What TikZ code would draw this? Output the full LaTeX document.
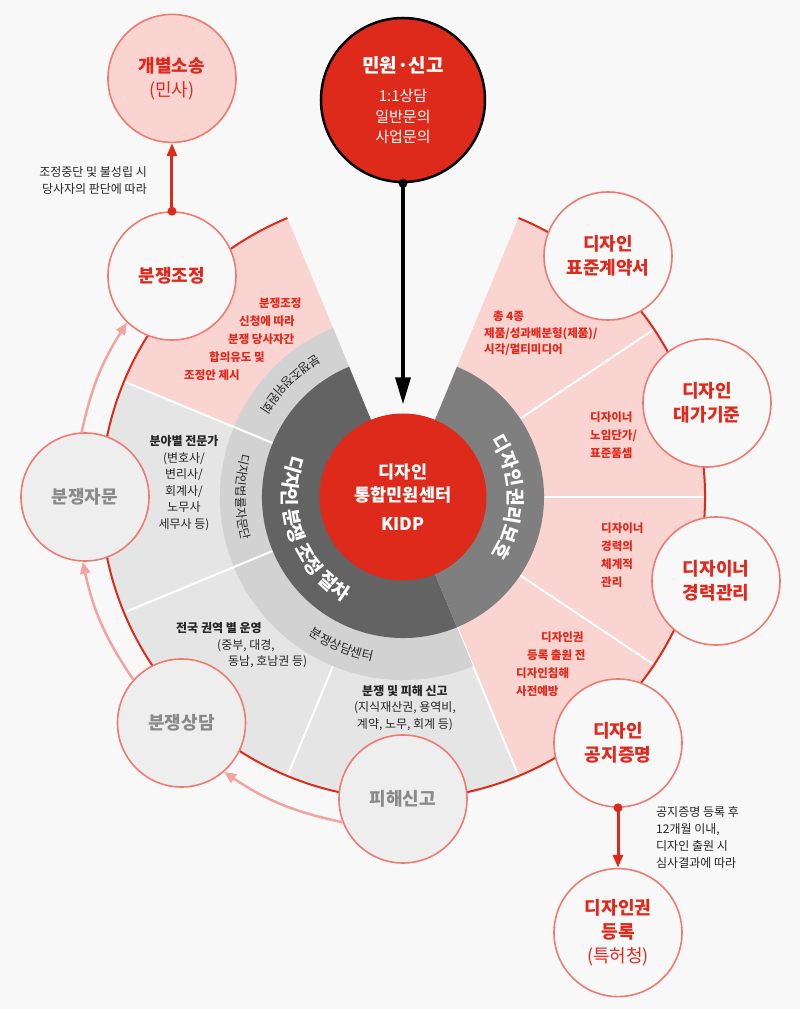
\documentclass[tikz,border=0pt]{standalone}
\usepackage{fontspec}
\setmainfont{Noto Sans CJK KR}
\usetikzlibrary{arrows.meta,positioning,decorations.text}

\newcommand{\kfs}[2]{\fontsize{#1}{#2}\selectfont}

\definecolor{kred}{HTML}{DD2A1A}
\definecolor{ktext}{HTML}{E0291C}
\definecolor{salmon}{HTML}{EE7A70}
\definecolor{blush}{HTML}{F9D4D0}
\definecolor{rose}{HTML}{F3A4A0}
\definecolor{bg}{HTML}{F8F8F8}
\definecolor{sector}{HTML}{E5E5E5}
\definecolor{band}{HTML}{D2D2D2}
\definecolor{darkring}{HTML}{636363}
\definecolor{midring}{HTML}{7F7F7F}
\definecolor{fog}{HTML}{EEEEEE}
\definecolor{ash}{HTML}{8A8A8A}

\tikzset{
    sat/.style = {
        circle,
        draw = salmon,
        line width = 1.6pt,
        minimum size = 128pt,
        inner sep = 0pt,
        align = center,
        font = \kfs{18}{24}\bfseries,
        },
    red sat/.style = {
        sat,
        fill = bg,
        text = ktext,
        },
    gray sat/.style = {
        sat,
        fill = fog,
        text = ash,
        },
    pink sat/.style = {
        sat,
        fill = blush,
        text = ktext,
        },
    red note/.style = {
        text = ktext,
        font = \kfs{11.5}{18}\bfseries,
        inner sep = 0pt,
        },
    note/.style = {
        text = black!85,
        font = \kfs{12}{16.5},
        inner sep = 0pt,
        },
    divider/.style = {
        draw = white,
        line width = 2pt,
        },
    flow/.style = {
        draw = rose,
        line width = 2.5pt,
        -{Triangle[length=12pt,width=10pt]},
        },
    push/.style = {
        draw = kred,
        line width = 3pt,
        -{Triangle[length=13pt,width=10pt]},
        },
    knob/.style = {
        circle,
        fill = kred,
        minimum size = 9pt,
        inner sep = 0pt,
        },
}

\begin{document}
\begin{tikzpicture}[x=1pt, y=1pt]
    \path[use as bounding box, fill=bg] (-403,-512) rectangle (397,497);

    % sectors of the wheel
    \fill[blush] (0,0) -- (112.5:302) arc[start angle=112.5, end angle=157.5, radius=302] -- cycle;
    \fill[sector] (0,0) -- (157.5:302) arc[start angle=157.5, end angle=292.5, radius=302] -- cycle;
    \fill[blush] (0,0) -- (-67.5:302) arc[start angle=-67.5, end angle=67.5, radius=302] -- cycle;
    \draw[divider] (0,0) -- (157.5:302);
    \draw[divider] (0,0) -- (202.5:302);
    \draw[divider] (0,0) -- (247.5:302);
    \draw[divider] (0,0) -- (292.5:302);
    \draw[divider] (0,0) -- (33.75:302);
    \draw[divider] (0,0) -- (0:302);
    \draw[divider] (0,0) -- (-33.75:302);

    % rings
    \fill[band] (0,0) -- (112.5:183) arc[start angle=112.5, end angle=292.5, radius=183] -- cycle;
    \draw[divider] (0,0) -- (157.5:183);
    \draw[divider] (0,0) -- (202.5:183);
    \fill[darkring] (0,0) -- (112.5:141) arc[start angle=112.5, end angle=292.5, radius=141] -- cycle;
    \fill[midring] (0,0) -- (-67.5:141) arc[start angle=-67.5, end angle=67.5, radius=141] -- cycle;
    \draw[kred, line width=2pt] (112.5:302) arc[start angle=112.5, end angle=427.5, radius=302];

    \path[decorate, decoration={text along path, text align=center, text color=white,
        text={|\kfs{19}{19}\bfseries|디자인 분쟁 조정 절차}}]
        (150:120) arc[start angle=150, end angle=250, radius=120];
    \path[decorate, decoration={text along path, text align=center, text color=white,
        text={|\kfs{19}{19}\bfseries|디자인권리보호}}]
        (48:105) arc[start angle=48, end angle=-48, radius=105];
    \path[decorate, decoration={text along path, text align=center, text color=black!85,
        text={|\kfs{12.5}{12.5}|분쟁조정위원회}}]
        (112.5:167) arc[start angle=112.5, end angle=157.5, radius=167];
    \path[decorate, decoration={text along path, text align=center, text color=black!85,
        text={|\kfs{12}{12}|디자인법률자문단}}]
        (157.5:167) arc[start angle=157.5, end angle=202.5, radius=167];
    \path[decorate, decoration={text along path, text align=center, text color=black!85,
        text={|\kfs{12.5}{12.5}|분쟁상담센터}}]
        (202.5:167) arc[start angle=202.5, end angle=292.5, radius=167];

    \node[circle, fill=kred, minimum size=167pt, inner sep=0pt, text=white, align=center,
        font=\kfs{17.5}{23}\bfseries] (kidp) at (0,0) {디자인\\통합민원센터\\[6pt]KIDP};

    % sector notes
    \node[red note, align=left, anchor=west] (jnote) at (-219,157.5)
        {\hspace*{75pt}분쟁조정\\\hspace*{55pt}신청에 따라\\\hspace*{44pt}분쟁 당사자간\\\hspace*{25pt}합의유도 및\\조정안 제시};
    \node[note, align=center] (mnote) at (-219,14)
        {\textbf{분야별 전문가}\\(변호사/\\변리사/\\회계사/\\노무사\\세무사 등)};
    \node[note, align=left, anchor=west] (snote) at (-227,-148.5)
        {\textbf{전국 권역 별 운영}\\\hspace*{41pt}(중부, 대경,\\\hspace*{52pt}동남, 호남권 등)};
    \node[note, align=center] (pnote) at (2,-211)
        {\textbf{분쟁 및 피해 신고}\\(지식재산권, 용역비,\\계약, 노무, 회계 등)};
    \node[red note, align=left, anchor=west, font=\kfs{11.5}{16.5}\bfseries] (gnote) at (81,163.5)
        {\hspace*{9pt}총 4종\\제품/성과배분형(제품)/\\시각/멀티미디어};
    \node[red note, align=left, anchor=west] (dnote) at (187,62) {디자이너\\노임단가/\\표준품셈};
    \node[red note, align=left, anchor=west] (knote) at (198,-58) {디자이너\\경력의\\체계적\\관리};
    \node[red note, align=left, anchor=west] (cnote) at (113,-167)
        {\hspace*{25pt}디자인권\\\hspace*{11pt}등록 출원 전\\디자인침해\\사전예방};

    % outer steps
    \node[circle, draw=black, line width=2.5pt, fill=kred, minimum size=164pt, inner sep=0pt,
        align=center, text=white, font=\kfs{15}{20.5}] (minwon) at (0,397)
        {{\kfs{19}{19}\bfseries 민원·신고}\\[9pt]1:1상담\\일반문의\\사업문의};
    \node[red sat] (jojeong) at (-231,221) {분쟁조정};
    \node[pink sat, above=68pt of jojeong] (sosong) {개별소송\\{\mdseries (민사)}};
    \node[gray sat] (jamun) at (-318,0) {분쟁자문};
    \node[gray sat] (sangdam) at (-221.5,-226) {분쟁상담};
    \node[gray sat] (pihae) at (0,-302) {피해신고};
    \node[red sat] (gyeyak) at (205,241) {디자인\\표준계약서};
    \node[red sat] (daega) at (304,94) {디자인\\대가기준};
    \node[red sat] (gyeongryeok) at (313,-84) {디자이너\\경력관리};
    \node[red sat] (gongji) at (215,-246) {디자인\\공지증명};
    \node[red sat, below=60pt of gongji] (deungrok) {디자인권\\등록\\{\mdseries (특허청)}};

    \draw[line width=3.5pt, -{Triangle[length=27pt,width=15pt]}, shorten >=9pt] (minwon.south) -- (kidp.north);
    \node[knob, fill=black] (mdot) at (minwon.south) {};
    \draw[push] (jojeong.north) -- (sosong.south);
    \node[knob] (jdot) at (jojeong.north) {};
    \draw[push] (gongji.south) -- (deungrok.north);
    \node[knob] (gdot) at (gongji.south) {};

    \draw[flow] (pihae.201) to[bend left=11] (sangdam.-49);
    \draw[flow] (sangdam.138) to[bend left=11] (jamun.268);
    \draw[flow] (jamun.93) to[bend left=10] (jojeong.226);

    \node[note, align=right, anchor=east, font=\kfs{12}{17}] (stop) at (-256,316.5)
        {조정중단 및 불성립 시\\당사자의 판단에 따라};
    \node[note, align=left, anchor=west, font=\kfs{12}{17}] (after) at (253,-340.5)
        {공지증명 등록 후\\12개월 이내,\\디자인 출원 시\\심사결과에 따라};
\end{tikzpicture}
\end{document}
